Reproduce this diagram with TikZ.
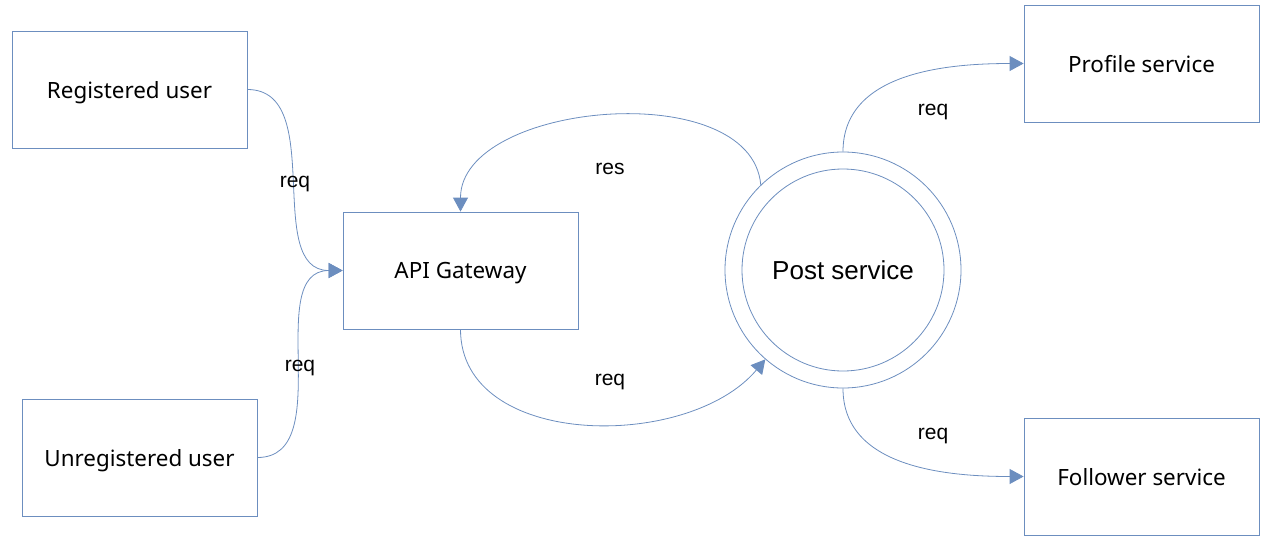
\documentclass[tikz,border=0pt]{standalone}
\usepackage{fontspec}
\setmainfont{Noto Sans}
\newfontfamily\edgefont{Liberation Sans}
\usetikzlibrary{arrows.meta}
\definecolor{edgeblue}{HTML}{6C8EBF}

\begin{document}
\begin{tikzpicture}[x=1pt,y=-1pt,
	box/.style={draw=edgeblue,line width=0.8pt,minimum width=235pt,minimum height=117pt,text depth=0pt,font=\fontsize{22.4}{26}\selectfont},
	flow/.style={draw=edgeblue,line width=0.8pt,-{Triangle[length=14pt,width=15pt,fill=edgeblue]}},
	lbl/.style={yshift=-4pt,font=\edgefont\fontsize{21}{25}\selectfont}]
\useasboundingbox (0,0) rectangle (1267,544);

\node[box] (reg) at (129.5,89.5) {Registered user};
\node[box] (unreg) at (139.5,457.5) {Unregistered user};
\node[box] (api) at (460.5,270.5) {API Gateway};
\node[box] (prof) at (1141.5,63.5) {Profile service};
\node[box] (foll) at (1141.5,476.5) {Follower service};
\node[circle,draw=edgeblue,line width=0.8pt,minimum size=236pt] (post) at (843,270) {};
\node[circle,draw=edgeblue,line width=0.8pt,minimum size=202pt,font=\edgefont\fontsize{26}{30}\selectfont] (postin) at (843,270) {Post service};

\draw[flow] (reg.east) to[out=0,in=180] node[lbl] (l1) {req} (api.west);
\draw[flow] (unreg.east) to[out=0,in=180] node[lbl] (l2) {req} (api.west);
\draw[flow] (api.south) to[out=-90,in=230] (post.229);
\draw[flow] (post.134) to[out=95,in=90,looseness=0.93] (api.north);
\draw[flow] (post.north) to[out=90,in=180] (prof.west);
\draw[flow] (post.south) to[out=-90,in=180] (foll.west);

\foreach \n/\p/\t in {l3/{(610,378)}/req,l4/{(610,165)}/res,l5/{(933,108)}/req,l6/{(933,432)}/req}
	\node[lbl] (\n) at \p {\t};
\end{tikzpicture}
\end{document}
